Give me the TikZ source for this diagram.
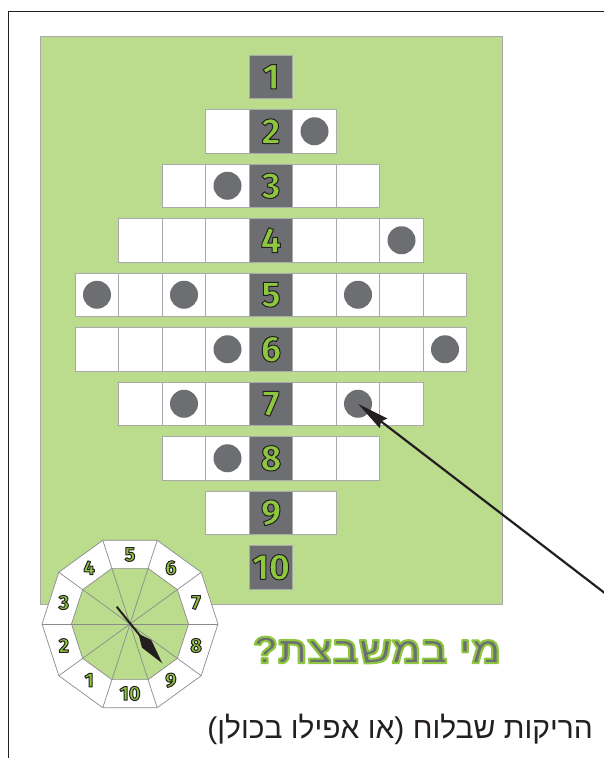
\documentclass[tikz,border=0pt]{standalone}
\usepackage{fontspec}
\usetikzlibrary{arrows.meta}
\TeXXeTstate=1
\newfontfamily\hebfont[Script=Hebrew]{Liberation Sans}
\newfontfamily\numfont{Fira Sans}
\definecolor{bgg}{HTML}{BADC8C}
\definecolor{dk}{HTML}{6D6E71}
\definecolor{ng}{HTML}{8DC63F}
\definecolor{cellb}{HTML}{A7A9AC}
\definecolor{ink}{HTML}{231F20}
% outlined text: #1 stroke rgb, #2 stroke width, #3 text
\newcommand{\olt}[3]{\special{pdf:literal direct 2 Tr 1 j #2 w #1 RG}#3\special{pdf:literal direct 0 Tr}}
\newcommand{\gnum}[1]{\textcolor{ng}{\olt{0.14 0.12 0.13}{1.0}{#1}}}
\tikzset{
  cellbox/.style={draw=cellb, fill=white, line width=0.8pt, minimum size=43.5pt, inner sep=0pt},
  numbox/.style={cellbox, fill=dk, font=\numfont\bfseries\fontsize{36}{36}\selectfont},
  dot/.style={circle, fill=dk, minimum size=28pt, inner sep=0pt},
  dialline/.style={draw=dk!80, line width=0.7pt},
  diallab/.style={font=\numfont\bfseries\fontsize{20}{20}\selectfont, inner sep=0pt}
}
\begin{document}
\begin{tikzpicture}[x=1pt,y=-1pt]
\useasboundingbox (0,0) rectangle (604,758);
% outer frame
\draw[ink, line width=1pt] (8,758) -- (8,11) -- (604,11);
% green panel
\node[draw=cellb, fill=bgg, line width=0.8pt, minimum width=462pt, minimum height=568pt, inner sep=0pt, anchor=north west] (panel) at (40,36) {};
% grid
\foreach \r/\n in {1/0,2/1,3/2,4/3,5/4,6/4,7/3,8/2,9/1,10/0}{
  \node[numbox] (N\r) at (271,{76.75+(\r-1)*54.5}) {\gnum{\r}};
  \foreach \k in {1,...,4}{
    \ifnum\k>\n\relax\else
      \node[cellbox] (L\r-\k) at ({271-\k*43.5},{76.75+(\r-1)*54.5}) {};
      \node[cellbox] (R\r-\k) at ({271+\k*43.5},{76.75+(\r-1)*54.5}) {};
    \fi
  }
}
\foreach \c in {R2-1,L3-1,R4-3,L5-4,L5-2,R5-2,L6-1,R6-4,L7-2,R7-2,L8-1}{
  \node[dot] at (\c) {};
}
% long arrow
\coordinate (atail) at (606,594);
\draw[ink, line width=2.2pt, -{Stealth[length=32pt,width=12pt,inset=3pt]}] (atail) -- (R7-2.center);
% dial
\coordinate (dc) at (130,624);
\begin{scope}[shift={(dc)}, y=1pt]
  \draw[dialline, fill=white] (0:88) \foreach \a in {36,72,...,324}{ -- (\a:88)} -- cycle;
  \draw[dialline, fill=bgg] (0:58.5) \foreach \a in {36,72,...,324}{ -- (\a:58.5)} -- cycle;
  \foreach \a in {0,36,...,324}{ \draw[dialline] (0,0) -- (\a:88); }
  \foreach \n in {1,...,10}{
    \node[diallab] (D\n) at ({90-(\n-5)*36}:69.5) {\gnum{\n}};
  }
  \coordinate (ptail) at (-13.3,17.3);
  \coordinate (ptip) at (32.3,-39.3);
  \draw[ink, line width=2pt, -{Kite[length=38pt,width=12pt,inset=13pt]}] (ptail) -- (ptip);
\end{scope}
% title
\node[font=\hebfont\bfseries\fontsize{38}{38}\selectfont, inner sep=0pt, xscale=1.08] (title) at (377,650) {\textcolor{dk}{\olt{0.553 0.776 0.247}{2}{\beginR מי במשבצת?\endR}}};
% bottom text
\node[font=\hebfont\fontsize{30}{30}\selectfont, text=ink, inner sep=0pt, anchor=east] (sub) at (593,729) {\beginR הריקות שבלוח (או אפילו בכולן)\endR};
\end{tikzpicture}
\end{document}
